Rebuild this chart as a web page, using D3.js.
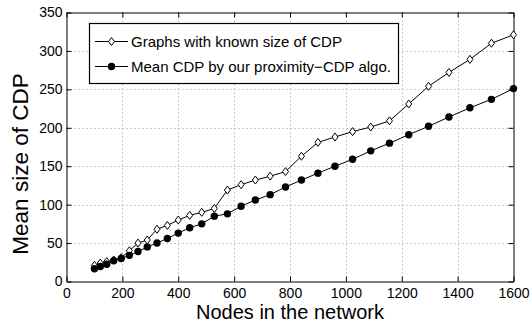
<!DOCTYPE html>
<html>
<head>
<meta charset="utf-8">
<script src="https://cdn.jsdelivr.net/npm/d3@7"></script>
<style>
  html, body { margin: 0; padding: 0; background: #fff; }
  svg { display: block; font-family: "Liberation Sans", Arial, Helvetica, sans-serif; }
</style>
</head>
<body>
<svg id="chart" width="530" height="323"></svg>
<script>
// ---- data ----
const nodes = [100,121,144,169,196,225,256,289,324,361,400,441,484,529,576,625,676,729,784,841,900,961,1024,1089,1156,1225,1296,1369,1444,1521,1600];
const knownCDP = [21,24,26,28,31,40,50,54,68,73,80,86,90,95,119,126,132,137,143,163,181,188,195,201,209,231,254,272,289,310,321];
const proximityCDP = [16.5,19.5,22.5,27,30,34,39,45,50,56,63,70,75,85,88,98,106,113,123,132,141,150,159,170,180,191,202,214,226,237,251];
const xTicks = [0,200,400,600,800,1000,1200,1400,1600];
const yTicks = [0,50,100,150,200,250,300,350];
const seriesNames = ["Graphs with known size of CDP", "Mean CDP by our proximity\u2212CDP algo."];
const xTitle = "Nodes in the network";
const yTitle = "Mean size of CDP";

// ---- layout ----
const L = 66.5, R = 513.5, T = 12.5, B = 281.5;
const svg = d3.select("#chart");
const x = d3.scaleLinear().domain([0, 1600]).range([L, R]);
const y = d3.scaleLinear().domain([0, 350]).range([B, T]);

// grid
const grid = svg.append("g").attr("stroke", "#9a9a9a").attr("stroke-width", 1).attr("stroke-dasharray", "1,3");
grid.selectAll("line.vx").data(xTicks.slice(1, -1)).join("line")
  .attr("x1", d => Math.round(x(d)) + 0.5).attr("x2", d => Math.round(x(d)) + 0.5)
  .attr("y1", T).attr("y2", B);
grid.selectAll("line.hy").data(yTicks.slice(1, -1)).join("line")
  .attr("y1", d => Math.round(y(d)) + 0.5).attr("y2", d => Math.round(y(d)) + 0.5)
  .attr("x1", L).attr("x2", R);

// axes
const tickLen = 5;
const fs = 14;
const gx = svg.append("g").attr("transform", `translate(0,${B})`)
  .call(d3.axisBottom(x).tickValues(xTicks).tickFormat(d3.format("d")).tickSizeInner(-tickLen).tickSizeOuter(0).tickPadding(7));
const gxt = svg.append("g").attr("transform", `translate(0,${T})`)
  .call(d3.axisTop(x).tickValues(xTicks).tickFormat("").tickSizeInner(-tickLen).tickSizeOuter(0));
const gy = svg.append("g").attr("transform", `translate(${L},0)`)
  .call(d3.axisLeft(y).tickValues(yTicks).tickFormat(d3.format("d")).tickSizeInner(-tickLen).tickSizeOuter(0).tickPadding(4));
const gyr = svg.append("g").attr("transform", `translate(${R},0)`)
  .call(d3.axisRight(y).tickValues(yTicks).tickFormat("").tickSizeInner(-tickLen).tickSizeOuter(0));
[gx, gxt, gy, gyr].forEach(g => {
  g.selectAll("path.domain").attr("stroke", "#000").attr("stroke-width", 1);
  g.selectAll(".tick line").attr("stroke", "#000");
  g.selectAll("text").attr("font-size", fs).attr("fill", "#000")
    .attr("font-family", "'Liberation Sans', Arial, sans-serif");
});

// series lines
const line = d3.line().x((d, i) => x(nodes[i])).y(d => y(d));
svg.append("path").datum(knownCDP).attr("d", line).attr("fill", "none").attr("stroke", "#000").attr("stroke-width", 1);
svg.append("path").datum(proximityCDP).attr("d", line).attr("fill", "none").attr("stroke", "#000").attr("stroke-width", 1);

const diamond = (cx, cy) => `M${cx},${cy - 4}L${cx + 3},${cy}L${cx},${cy + 4}L${cx - 3},${cy}Z`;
svg.append("g").selectAll("path").data(knownCDP).join("path")
  .attr("d", (d, i) => diamond(x(nodes[i]), y(d)))
  .attr("fill", "#fff").attr("stroke", "#000").attr("stroke-width", 1);
svg.append("g").selectAll("circle").data(proximityCDP).join("circle")
  .attr("cx", (d, i) => x(nodes[i])).attr("cy", d => y(d)).attr("r", 3.7)
  .attr("fill", "#000");

// legend
const lg = svg.append("g");
lg.append("rect").attr("x", 89.5).attr("y", 23.5).attr("width", 309).attr("height", 60)
  .attr("fill", "#fff").attr("stroke", "#000").attr("stroke-width", 1.2);
const rows = [41.5, 66.5];
rows.forEach((ry, i) => {
  lg.append("line").attr("x1", 95).attr("x2", 128).attr("y1", ry).attr("y2", ry).attr("stroke", "#000");
  if (i === 0) lg.append("path").attr("d", diamond(111.5, ry)).attr("fill", "#fff").attr("stroke", "#000");
  else lg.append("circle").attr("cx", 111.5).attr("cy", ry).attr("r", 3.7).attr("fill", "#000");
  lg.append("text").attr("x", 131).attr("y", ry).attr("dy", "0.36em").attr("font-size", 15)
    .attr("fill", "#000").text(seriesNames[i]);
});

// titles
svg.append("text").attr("x", (L + R) / 2).attr("y", 318.5).attr("text-anchor", "middle")
  .attr("font-size", 20).attr("fill", "#000").text(xTitle);
svg.append("text").attr("transform", `translate(28,164) rotate(-90)`).attr("text-anchor", "middle")
  .attr("font-size", 22.5).attr("fill", "#000").text(yTitle);
</script>
</body>
</html>
